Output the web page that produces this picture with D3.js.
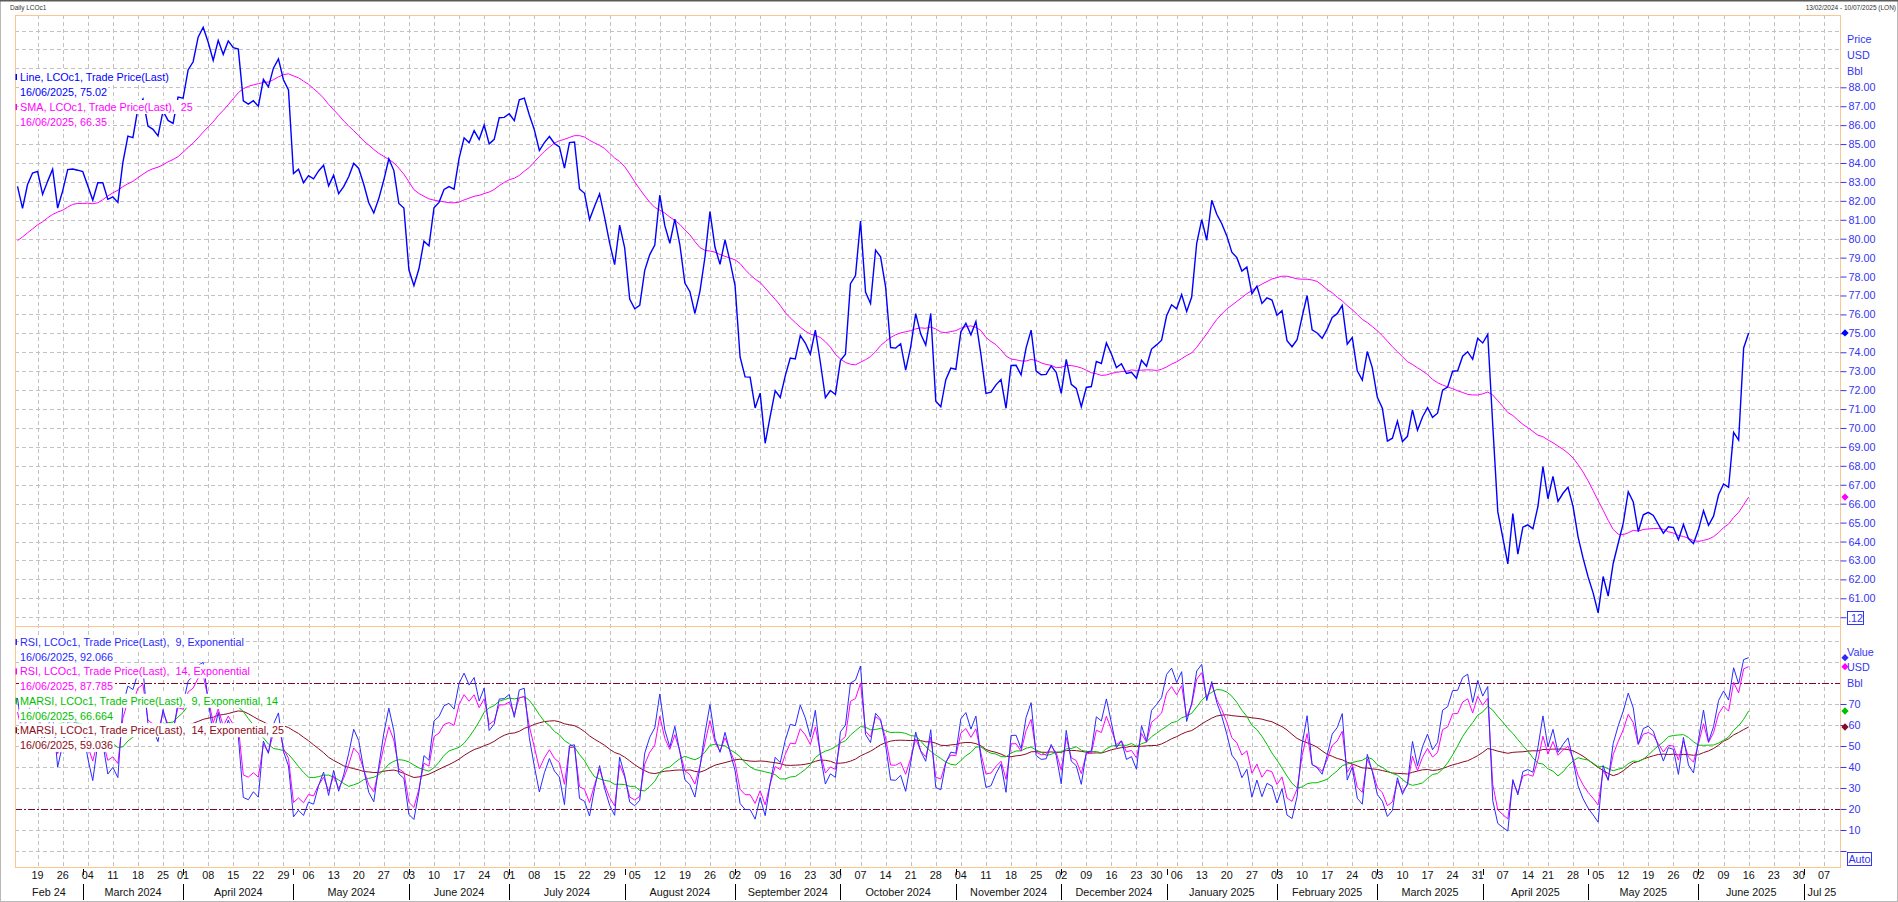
<!DOCTYPE html>
<html><head><meta charset="utf-8">
<script src="https://cdn.jsdelivr.net/npm/d3@7"></script>
<style>
html,body{margin:0;padding:0;background:#fff;}
svg{display:block;font-family:"Liberation Sans",Arial,sans-serif;}
svg text{white-space:pre;}
</style></head><body>
<svg id="chart" width="1898" height="902"></svg>
<script>
// ---------------- DATA (LCOc1 daily trade price, last) ----------------
const firstDay = "2024-02-13";
const axisEnd = "2025-07-10";
const marketHolidays = ["2024-03-29", "2024-12-25", "2025-01-01", "2025-04-18"];

// closes before the visible window (only feed the SMA / RSI history)
const warmDec2023 = [78.88, 78.03, 77.20, 74.30, 74.05, 75.84, 76.03, 73.24, 74.26, 76.61, 76.55, 77.95, 79.23, 79.70, 79.39, 79.07, 79.65, 78.39, 77.04];
const warmJan2024 = [75.89, 78.25, 77.59, 78.76, 76.12, 77.59, 76.80, 77.41, 78.29, 78.15, 78.29, 77.88, 79.10, 78.56, 80.06, 79.55, 80.04, 82.43, 83.55, 82.40, 82.87, 81.71];
const warmFeb2024 = [78.70, 77.33, 78.00, 78.59, 79.21, 81.63, 82.19, 82.00];

// visible closes, one per trading day from 13/02/2024
const feb2024 = [82.77, 81.60, 82.86, 83.47, 83.56, 82.34, 83.03, 83.67, 81.62, 82.53, 83.65, 83.68, 83.62];
const mar2024 = [83.55, 82.80, 82.04, 82.96, 82.96, 82.08, 82.21, 81.92, 84.03, 85.42, 85.34, 86.89, 87.38, 85.95, 85.78, 85.43, 86.75, 86.25, 86.09, 87.48];
const apr2024 = [87.42, 88.92, 89.35, 90.65, 91.17, 90.38, 89.42, 90.48, 89.74, 90.45, 90.10, 90.02, 87.29, 87.11, 87.29, 87.00, 88.42, 88.02, 89.01, 89.50, 88.40, 87.86];
const may2024 = [83.44, 83.67, 82.96, 83.33, 83.16, 83.58, 83.88, 82.79, 83.36, 82.38, 82.75, 83.27, 83.98, 83.71, 82.88, 81.90, 81.36, 82.12, 83.10, 84.22, 83.60, 81.86, 81.62];
const jun2024 = [78.36, 77.52, 78.41, 79.87, 79.62, 81.63, 81.92, 82.60, 82.75, 82.62, 84.25, 85.33, 85.07, 85.71, 85.24, 86.01, 85.01, 85.25, 86.39, 86.41];
const jul2024 = [86.60, 86.24, 87.34, 87.43, 86.54, 85.75, 84.66, 85.08, 85.40, 85.03, 84.85, 83.73, 85.08, 85.11, 82.63, 82.40, 81.01, 81.71, 82.37, 81.13, 79.78, 78.63, 80.72];
const aug2024 = [79.52, 76.81, 76.30, 76.48, 78.33, 79.16, 79.66, 82.30, 80.69, 79.76, 81.04, 79.68, 77.66, 77.20, 76.05, 77.22, 79.02, 81.43, 79.55, 78.65, 79.94, 78.80];
const sep2024 = [77.52, 73.75, 72.70, 72.69, 71.06, 71.84, 69.19, 70.61, 71.97, 71.61, 72.75, 73.70, 73.65, 74.88, 74.49, 73.90, 75.17, 73.46, 71.60, 71.98, 71.77];
const oct2024 = [73.56, 73.90, 77.62, 78.05, 80.93, 77.18, 76.58, 79.40, 79.04, 77.46, 74.25, 74.22, 74.45, 73.06, 74.29, 76.04, 74.96, 74.38, 76.05, 71.42, 71.12, 72.55, 73.16];
const nov2024 = [73.10, 75.08, 75.53, 74.92, 75.63, 73.87, 71.83, 71.89, 72.28, 72.56, 71.04, 73.30, 73.31, 72.81, 74.23, 75.17, 73.01, 72.81, 72.83, 73.28, 72.94];
const dec2024 = [71.83, 73.62, 72.31, 72.09, 71.12, 72.14, 72.19, 73.52, 73.41, 74.49, 73.91, 73.19, 73.39, 72.88, 72.94, 72.63, 73.58, 73.26, 74.17, 74.39, 74.64];
const jan2025 = [75.93, 76.51, 76.30, 77.05, 76.16, 76.92, 79.76, 81.01, 79.92, 82.03, 81.29, 80.79, 80.15, 79.29, 79.00, 78.29, 78.50, 77.08, 77.49, 76.58, 76.87, 76.76];
const feb2025 = [75.96, 76.20, 74.61, 74.29, 74.66, 75.87, 77.00, 75.18, 75.02, 74.74, 75.22, 75.84, 76.04, 76.48, 74.43, 74.78, 73.02, 72.53, 74.04, 73.18];
const mar2025 = [71.62, 71.04, 69.30, 69.46, 70.36, 69.28, 69.56, 70.95, 69.88, 70.58, 71.07, 70.56, 70.78, 72.00, 72.16, 73.00, 73.02, 73.79, 74.03, 73.63, 74.74];
const apr2025 = [74.49, 74.95, 70.14, 65.58, 64.21, 62.82, 65.48, 63.33, 64.76, 64.88, 64.67, 65.85, 67.96, 66.26, 67.44, 66.12, 66.55, 66.87, 65.86, 64.25, 63.12];
const may2025 = [62.13, 61.29, 60.23, 62.15, 61.12, 62.84, 63.91, 64.96, 66.63, 66.09, 64.53, 65.41, 65.54, 65.38, 64.91, 64.44, 64.78, 64.74, 64.09, 64.90, 64.15, 63.90];
const jun2025 = [64.63, 65.63, 64.86, 65.34, 66.47, 67.04, 66.87, 69.77, 69.36, 74.23, 75.02];

// axis labels
const priceTicks = d3.range(61, 89);
const rsiTicks = [0, 10, 20, 30, 40, 50, 60, 70];
const rsiBands = [20, 80];

// legend texts
const priceLegend = [
  {text: "Line, LCOc1, Trade Price(Last)", key: "price", mark: true},
  {text: "16/06/2025, 75.02", key: "price"},
  {text: "SMA, LCOc1, Trade Price(Last),  25", key: "sma", mark: true},
  {text: "16/06/2025, 66.35", key: "sma"}
];
const rsiLegend = [
  {text: "RSI, LCOc1, Trade Price(Last),  9, Exponential", key: "rsi9", mark: true},
  {text: "16/06/2025, 92.066", key: "rsi9"},
  {text: "RSI, LCOc1, Trade Price(Last),  14, Exponential", key: "rsi14", mark: true},
  {text: "16/06/2025, 87.785", key: "rsi14"},
  {text: "MARSI, LCOc1, Trade Price(Last),  9, Exponential, 14", key: "ma9", mark: true},
  {text: "16/06/2025, 66.664", key: "ma9"},
  {text: "MARSI, LCOc1, Trade Price(Last),  14, Exponential, 25", key: "ma14", mark: true},
  {text: "16/06/2025, 59.036", key: "ma14"}
];

// ---------------- STYLE ----------------
const colors = {price: "#0000ff", sma: "#ff00ff", rsi9: "#2a2aff", rsi14: "#ff00ff", ma9: "#00c000", ma14: "#8c0a20"};
const axisBlue = "#3535f5";
const border = "#fcc690";
const gridCol = "#c2c2c2";
const L = 15, R = 1840, T1 = 15, B1 = 626, B2 = 867;
const fontSize = 10.8;

// ---------------- BUILD ----------------
const holidaySet = new Set(marketHolidays);
const iso = d => d.toISOString().slice(0, 10);
function tradingDays(start, end) {
  const out = [];
  const d = new Date(start + "T00:00:00Z"), e = new Date(end + "T00:00:00Z");
  while (d <= e) {
    const w = d.getUTCDay();
    if (w !== 0 && w !== 6 && !holidaySet.has(iso(d))) out.push(new Date(d));
    d.setUTCDate(d.getUTCDate() + 1);
  }
  return out;
}
const days = tradingDays(firstDay, axisEnd);
const keys = days.map(iso);

const warm = [].concat(warmDec2023, warmJan2024, warmFeb2024);
const closes = [].concat(feb2024, mar2024, apr2024, may2024, jun2024, jul2024, aug2024, sep2024, oct2024, nov2024, dec2024, jan2025, feb2025, mar2025, apr2025, may2025, jun2025);
const full = warm.concat(closes);
const W = warm.length;

// indicators as named in the legend: SMA(25); RSI with exponential smoothing; MARSI = moving average of RSI
function smaOf(s, n) { return s.map((v, i) => (v == null || i < n - 1 || s[i - n + 1] == null) ? null : d3.mean(s.slice(i - n + 1, i + 1))); }
function rsiExp(s, n) {
  const a = 2 / (n + 1), out = s.map(() => null);
  let g = 0, l = 0;
  for (let i = 1; i < s.length; i++) {
    const ch = s[i] - s[i - 1], up = Math.max(ch, 0), dn = Math.max(-ch, 0);
    if (i <= n) { g += up / n; l += dn / n; if (i === n) out[i] = 100 * g / (g + l); }
    else { g = a * up + (1 - a) * g; l = a * dn + (1 - a) * l; out[i] = 100 * g / (g + l); }
  }
  return out;
}
const smaFull = smaOf(full, 25);
const rsi9Full = rsiExp(full, 9), rsi14Full = rsiExp(full, 14);
const ma9Full = smaOf(rsi9Full, 14), ma14Full = smaOf(rsi14Full, 25);
const visible = arr => closes.map((_, i) => ({i, v: arr[W + i]}));
const series = {
  price: closes.map((v, i) => ({i, v})),
  sma: visible(smaFull),
  rsi9: visible(rsi9Full), rsi14: visible(rsi14Full),
  ma9: visible(ma9Full), ma14: visible(ma14Full)
};

const svg = d3.select("#chart");
const x = d3.scaleBand().domain(keys).range([L, 1841.5]).paddingInner(0).paddingOuter(0);
const cx = i => x(keys[i]) + x.bandwidth() / 2;
const yP = d3.scaleLinear().domain([59.537, 91.82]).range([B1, T1]);
const yR = d3.scaleLinear().domain([-7.62, 107.14]).range([B2, B1]);

// frame
svg.append("rect").attr("x", 0.5).attr("y", 0.5).attr("width", 1897).attr("height", 901).attr("fill", "#fff").attr("stroke", "#b8b8b8");
svg.append("line").attr("x1", 0).attr("x2", 1898).attr("y1", 0.5).attr("y2", 0.5).attr("stroke", "#5a5a5a").attr("stroke-width", 2);
svg.append("text").attr("x", 10).attr("y", 9.5).attr("font-size", 6.5).attr("fill", "#333").text("Daily LCOc1");
svg.append("text").attr("x", 1896).attr("y", 9.5).attr("text-anchor", "end").attr("font-size", 6.5).attr("fill", "#333").text("13/02/2024 - 10/07/2025 (LON)");

// grids
const mondays = keys.filter((k, i) => days[i].getUTCDay() === 1);
const grid = svg.append("g").attr("stroke", gridCol).attr("stroke-dasharray", "4,3").attr("shape-rendering", "crispEdges");
grid.selectAll("line.v").data(mondays).join("line").attr("class", "v")
  .attr("x1", k => Math.round(x(k) + x.bandwidth() / 2) + 0.5).attr("x2", k => Math.round(x(k) + x.bandwidth() / 2) + 0.5)
  .attr("y1", T1).attr("y2", B2);
grid.selectAll("line.hp").data(d3.range(60, 92)).join("line").attr("class", "hp")
  .attr("x1", L).attr("x2", R).attr("y1", p => Math.round(yP(p)) + 0.5).attr("y2", p => Math.round(yP(p)) + 0.5);
grid.selectAll("line.hr").data(d3.range(0, 101, 10).filter(v => !rsiBands.includes(v))).join("line").attr("class", "hr")
  .attr("x1", L).attr("x2", R).attr("y1", v => Math.round(yR(v)) + 0.5).attr("y2", v => Math.round(yR(v)) + 0.5);
svg.append("g").selectAll("line").data(rsiBands).join("line")
  .attr("x1", L).attr("x2", R).attr("y1", v => Math.round(yR(v)) + 0.5).attr("y2", v => Math.round(yR(v)) + 0.5)
  .attr("stroke", "#7a0a28").attr("stroke-dasharray", "7,2,2,2").attr("shape-rendering", "crispEdges");

// lines
const lineP = d3.line().defined(d => d.v != null).x(d => cx(d.i)).y(d => yP(d.v));
const lineR = d3.line().defined(d => d.v != null).x(d => cx(d.i)).y(d => yR(d.v));
const gP = svg.append("g").attr("fill", "none");
gP.append("path").attr("d", lineP(series.sma)).attr("stroke", colors.sma).attr("stroke-width", 1);
gP.append("path").attr("d", lineP(series.price)).attr("stroke", colors.price).attr("stroke-width", 1.4);
const gR = svg.append("g").attr("fill", "none");
["ma14", "ma9", "rsi14", "rsi9"].forEach(k => {
  gR.append("path").attr("d", lineR(series[k])).attr("stroke", colors[k]).attr("stroke-width", 1);
});

// panel borders
svg.append("rect").attr("x", L + 0.5).attr("y", T1 + 0.5).attr("width", R - L).attr("height", B1 - T1).attr("fill", "none").attr("stroke", border);
svg.append("rect").attr("x", L + 0.5).attr("y", B1 + 0.5).attr("width", R - L).attr("height", B2 - B1).attr("fill", "none").attr("stroke", border);

// right axes
function styleAxis(g) {
  g.select(".domain").remove();
  g.selectAll(".tick line").attr("stroke", axisBlue);
  g.selectAll(".tick text").attr("fill", axisBlue).attr("font-size", fontSize).attr("font-family", "Liberation Sans, Arial, sans-serif");
}
svg.append("g").attr("transform", `translate(${R + 0.5},0)`)
  .call(d3.axisRight(yP).tickValues(priceTicks.concat([60])).tickFormat(v => v === 60 ? "" : d3.format(".2f")(v)).tickSize(6).tickPadding(2))
  .call(styleAxis);
svg.append("g").attr("transform", `translate(${R + 0.5},0)`)
  .call(d3.axisRight(yR).tickValues(rsiTicks).tickFormat(v => v === 0 ? "" : v).tickSize(6).tickPadding(2))
  .call(styleAxis);
const head = (t, yy) => svg.append("text").attr("x", 1847).attr("y", yy).attr("font-size", fontSize).attr("fill", axisBlue).text(t);
head("Price", 43); head("USD", 59); head("Bbl", 75);
head("Value", 656); head("USD", 671); head("Bbl", 687);

// boxes
function box(t, x0, y0, w, h) {
  svg.append("rect").attr("x", x0 + 0.5).attr("y", y0 + 0.5).attr("width", w).attr("height", h).attr("fill", "#fff").attr("stroke", axisBlue);
  svg.append("text").attr("x", x0 + w / 2 + 0.5).attr("y", y0 + h - 2.5).attr("text-anchor", "middle").attr("font-size", fontSize).attr("fill", axisBlue).text(t);
}
box(".12", 1847, 611, 16, 13);
box("Auto", 1847, 852, 24, 13);

// last value diamonds
const lastI = closes.length - 1;
const diamond = d3.symbol().type(d3.symbolDiamond2).size(34);
[["price", yP], ["sma", yP], ["rsi9", yR], ["rsi14", yR], ["ma9", yR], ["ma14", yR]].forEach(([k, sc]) => {
  svg.append("path").attr("d", diamond).attr("transform", `translate(${R + 5},${sc(series[k][lastI].v)})`).attr("fill", colors[k]);
});

// legends with white backgrounds
function legend(items, y0, step) {
  const g = svg.append("g");
  items.forEach((it, j) => {
    const yy = y0 + j * step;
    const t = g.append("text").attr("x", 20).attr("y", yy + 4).attr("font-size", fontSize).attr("fill", colors[it.key]).text(it.text);
    const bb = t.node().getBBox();
    g.insert("rect", "text").attr("x", bb.x - 1).attr("y", yy - 7).attr("width", bb.width + 2).attr("height", 14).attr("fill", "#fff");
    if (it.mark) g.append("rect").attr("x", 15.5).attr("y", yy - 3).attr("width", 1.5).attr("height", 6).attr("fill", colors[it.key]);
  });
}
legend(priceLegend, 77, 15);
legend(rsiLegend, 642, 14.7);

// bottom axis: day numbers on Mondays
svg.append("g").attr("transform", `translate(0,${B2})`)
  .call(d3.axisBottom(x).tickValues(mondays).tickFormat(k => k.slice(8, 10)).tickSize(0).tickPadding(4))
  .call(g => {
    g.select(".domain").remove();
    g.selectAll(".tick text").attr("fill", "#111").attr("font-size", fontSize).attr("font-family", "Liberation Sans, Arial, sans-serif");
  });

// month separators and labels
const monthStarts = keys.map((k, i) => i).filter(i => i === 0 || days[i].getUTCMonth() !== days[i - 1].getUTCMonth());
const monthFmt = d3.utcFormat("%B %Y");
monthStarts.forEach((mi, j) => {
  const xs = j === 0 ? L : cx(mi);
  const xe = j === monthStarts.length - 1 ? R : cx(monthStarts[j + 1]);
  let label = monthFmt(days[mi]);
  if (j === 0) label = "Feb 24";
  if (j === monthStarts.length - 1) label = "Jul 25";
  svg.append("text").attr("x", (xs + xe) / 2).attr("y", 896).attr("text-anchor", "middle").attr("font-size", fontSize).attr("fill", "#111").text(label);
  if (j > 0) {
    const xx = Math.round(cx(mi)) + 0.5;
    svg.append("line").attr("x1", xx).attr("x2", xx).attr("y1", 884).attr("y2", 900).attr("stroke", "#000").attr("shape-rendering", "crispEdges");
    svg.append("line").attr("x1", xx).attr("x2", xx).attr("y1", 869).attr("y2", 875).attr("stroke", "#000").attr("shape-rendering", "crispEdges");
  }
});
</script>
</body></html>
